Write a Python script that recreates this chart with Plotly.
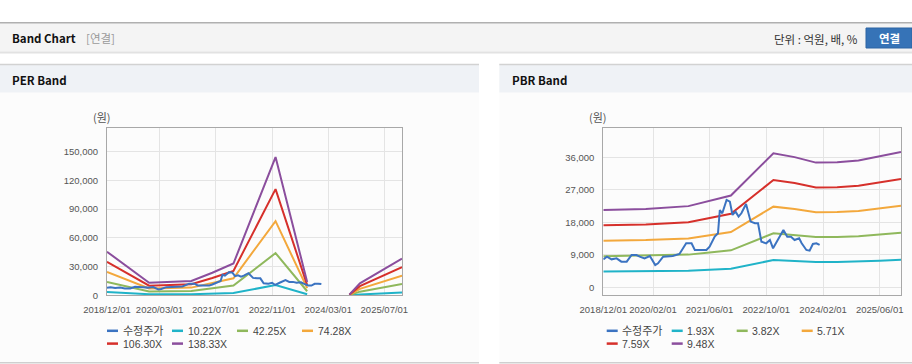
import plotly.graph_objects as go

W, H = 912, 364

# ---------------- data ----------------
per_dates = ["2018-12-01", "2019-12-01", "2020-12-01", "2021-06-01", "2021-12-01",
             "2022-12-01", "2023-09-01", "2024-03-01", "2024-09-01", "2024-12-01", "2025-12-01"]
per_band_names = ["10.22X", "42.25X", "74.28X", "106.30X", "138.33X"]
per_10_22 = [3362, 971, 1104, 1737, 2453, 10670, 1022, None, 51, 920, 2831]
per_42_25 = [13900, 4014, 4563, 7183, 10140, 44109, 4225, None, 211, 3803, 11703]
per_74_28 = [24438, 7057, 8022, 12628, 17827, 77548, 7428, None, 371, 6685, 20576]
per_106_30 = [34973, 10099, 11480, 18071, 25512, 110977, 10630, None, 532, 9567, 29445]
per_138_33 = [45511, 13141, 14940, 23516, 33199, 144417, 13833, None, 692, 12450, 38317]

pbr_dates = ["2018-12-01", "2019-12-01", "2020-12-01", "2021-06-01", "2021-12-01", "2022-12-01",
             "2023-06-01", "2023-12-01", "2024-06-01", "2024-12-01", "2025-06-01", "2025-12-01"]
pbr_band_names = ["1.93X", "3.82X", "5.71X", "7.59X", "9.48X"]
pbr_1_93 = [4362, 4420, 4574, 4883, 5172, 7546, 7334, 7025, 7045, 7141, 7392, 7624]
pbr_3_82 = [8633, 8748, 9053, 9665, 10238, 14936, 14516, 13905, 13943, 14134, 14631, 15089]
pbr_5_71 = [12905, 13076, 13533, 14446, 15303, 22326, 21698, 20784, 20842, 21127, 21869, 22555]
pbr_7_59 = [17153, 17381, 17988, 19203, 20341, 29677, 28842, 27628, 27704, 28083, 29070, 29981]
pbr_9_48 = [21425, 21709, 22468, 23984, 25406, 37067, 36024, 34507, 34602, 35076, 36308, 37446]

price_name = "수정주가"
price_dates = ["2018-12-01", "2019-01-01", "2019-02-10", "2019-03-25", "2019-05-05", "2019-06-20",
               "2019-08-01", "2019-09-12", "2019-10-10", "2019-11-20", "2020-01-05", "2020-02-20",
               "2020-03-15", "2020-04-28", "2020-07-20", "2020-09-15", "2020-11-12", "2020-12-28",
               "2021-01-25", "2021-05-05", "2021-06-01", "2021-07-15", "2021-08-12", "2021-08-28",
               "2021-09-18", "2021-10-25", "2021-11-22", "2021-12-15", "2022-01-10", "2022-02-05",
               "2022-03-01", "2022-04-10", "2022-05-20", "2022-06-25", "2022-07-22", "2022-08-20",
               "2022-09-30", "2022-11-01", "2022-11-28", "2023-01-05", "2023-02-25", "2023-03-30",
               "2023-05-01", "2023-06-01", "2023-07-10", "2023-08-01", "2023-09-10", "2023-10-08",
               "2023-11-05", "2023-12-05", "2024-01-02"]
price_vals = [7750, 8490, 7750, 8030, 7100, 7100,
              8950, 8950, 8490, 8030, 8680, 6180,
              6650, 8490, 8680, 9230, 12180, 12180,
              10330, 10330, 11260, 14030, 14950, 21400,
              20490, 24180, 23720, 20030, 20950, 19560,
              20490, 23070, 18180, 17720, 17720, 12640,
              12180, 13100, 10800, 13100, 15870, 14020,
              14020, 13100, 13570, 12180, 10340, 10150,
              12000, 12180, 11720]

per_ticks = ["2018-12-01", "2020-03-01", "2021-07-01", "2022-11-01", "2024-03-01", "2025-07-01"]
per_ticktext = ["2018/12/01", "2020/03/01", "2021/07/01", "2022/11/01", "2024/03/01", "2025/07/01"]
pbr_ticks = ["2018-12-01", "2020-02-01", "2021-06-01", "2022-10-01", "2024-02-01", "2025-06-01"]
pbr_ticktext = ["2018/12/01", "2020/02/01", "2021/06/01", "2022/10/01", "2024/02/01", "2025/06/01"]
per_yticks = [0, 30000, 60000, 90000, 120000, 150000]
pbr_yticks = [0, 9000, 18000, 27000, 36000]

colors = ["#3b73c1", "#20b3c8", "#8fb85c", "#f3a83c", "#d6302b", "#8b4e9d"]

# ---------------- helpers ----------------
def fx(px):
    return px / W

def fy(py):
    return 1 - py / H

fig = go.Figure()

per_series = [per_10_22, per_42_25, per_74_28, per_106_30, per_138_33]
pbr_series = [pbr_1_93, pbr_3_82, pbr_5_71, pbr_7_59, pbr_9_48]

for i, s in enumerate(per_series):
    fig.add_trace(go.Scatter(x=per_dates, y=s, mode="lines", name=per_band_names[i],
                             line=dict(color=colors[i + 1], width=2), connectgaps=False,
                             xaxis="x", yaxis="y", showlegend=False))
fig.add_trace(go.Scatter(x=price_dates, y=price_vals, mode="lines", name=price_name,
                         line=dict(color=colors[0], width=2), xaxis="x", yaxis="y", showlegend=False))

for i, s in enumerate(pbr_series):
    fig.add_trace(go.Scatter(x=pbr_dates, y=s, mode="lines", name=pbr_band_names[i],
                             line=dict(color=colors[i + 1], width=2),
                             xaxis="x2", yaxis="y2", showlegend=False))
fig.add_trace(go.Scatter(x=price_dates, y=price_vals, mode="lines", name=price_name,
                         line=dict(color=colors[0], width=2), xaxis="x2", yaxis="y2", showlegend=False))

tickfont = dict(family="Liberation Sans, Arial", size=9.5, color="#555555")
axis_common = dict(showline=True, linecolor="#a8a8a8", linewidth=1, mirror=True,
                   showgrid=True, gridcolor="#e4e4e4", gridwidth=1, zeroline=False,
                   ticks="", tickfont=tickfont, automargin=False)

fig.update_layout(
    width=W, height=H, margin=dict(l=0, r=0, t=0, b=0, pad=0, autoexpand=False),
    paper_bgcolor="white", plot_bgcolor="white",
    xaxis=dict(domain=[fx(107), fx(402)], type="date", range=["2018-12-01", "2025-12-01"],
               tickvals=per_ticks, ticktext=per_ticktext, anchor="y", ticklabelstandoff=5, **axis_common),
    yaxis=dict(domain=[fy(295.3), fy(128.3)], range=[0, 174500], tickvals=per_yticks,
               tickformat=",d", anchor="x", ticklabelstandoff=6, **axis_common),
    xaxis2=dict(domain=[fx(603.3), fx(901)], type="date", range=["2018-12-01", "2025-12-01"],
                tickvals=pbr_ticks, ticktext=pbr_ticktext, anchor="y2", ticklabelstandoff=5, **axis_common),
    yaxis2=dict(domain=[fy(295.3), fy(128.3)], range=[-2200, 44000], tickvals=pbr_yticks,
                tickformat=",d", anchor="x2", ticklabelstandoff=6, **axis_common),
)

shapes = []
# top header bar
shapes.append(dict(type="rect", xref="paper", yref="paper", x0=0, x1=1, y0=fy(51.5), y1=fy(22.5),
                   fillcolor="#f4f4f4", line=dict(width=0), layer="below"))
shapes.append(dict(type="line", xref="paper", yref="paper", x0=0, x1=1, y0=fy(22.8), y1=fy(22.8),
                   line=dict(color="#b0b0b0", width=1.5), layer="below"))
shapes.append(dict(type="rect", xref="paper", yref="paper", x0=0, x1=1, y0=fy(53.5), y1=fy(51.5),
                   fillcolor="#e2e2e2", line=dict(width=0), layer="below"))
# panels
for (a, b) in [(0, 479), (499.3, 912)]:
    shapes.append(dict(type="rect", xref="paper", yref="paper", x0=fx(a), x1=fx(b), y0=fy(362), y1=fy(92.5),
                       fillcolor="#fcfcfc", line=dict(width=0), layer="below"))
    shapes.append(dict(type="rect", xref="paper", yref="paper", x0=fx(a), x1=fx(b), y0=fy(92.5), y1=fy(64.5),
                       fillcolor="#eff2f6", line=dict(width=0), layer="below"))
    shapes.append(dict(type="line", xref="paper", yref="paper", x0=fx(a), x1=fx(b), y0=fy(64.5), y1=fy(64.5),
                       line=dict(color="#d2d2d2", width=1.5), layer="below"))
    shapes.append(dict(type="line", xref="paper", yref="paper", x0=fx(a), x1=fx(b), y0=fy(362.8), y1=fy(362.8),
                       line=dict(color="#cfcfcf", width=1.5), layer="below"))
# button
shapes.append(dict(type="rect", xref="paper", yref="paper", x0=fx(866), x1=fx(912), y0=fy(48), y1=fy(28),
                   fillcolor="#3673b7", line=dict(color="#2d64a3", width=1), layer="below"))

annotations = []
def txt(x, y, text, size=12, color="#111", bold=False, anchor="left", family="Noto Sans CJK KR"):
    t = f"<b>{text}</b>" if bold else text
    annotations.append(dict(xref="paper", yref="paper", x=fx(x), y=fy(y), text=t, showarrow=False,
                            xanchor=anchor, yanchor="middle",
                            font=dict(family=family, size=size, color=color)))

txt(10, 38, "Band Chart", 11.5, "#111", True)
txt(84, 38.5, "[연결]", 11.5, "#9a9a9a")
txt(860, 39, "단위 : 억원, 배, %", 11.5, "#333", anchor="right")
txt(889, 38, "연결", 11.5, "white", True, anchor="center")
txt(10, 79.5, "PER Band", 11.5, "#111", True)
txt(510, 79.5, "PBR Band", 11.5, "#111", True)
txt(102, 117, "(원)", 11, "#555", anchor="center")
txt(598, 117, "(원)", 11, "#555", anchor="center")

# legends
per_leg_names = [price_name] + per_band_names
pbr_leg_names = [price_name] + pbr_band_names
for base, names in [(107, per_leg_names), (606.7, pbr_leg_names)]:
    for i, nm in enumerate(names):
        row = i // 4
        col = i % 4
        x0 = base + col * 65
        y0 = 330.8 + row * 12.8
        shapes.append(dict(type="line", xref="paper", yref="paper", x0=fx(x0), x1=fx(x0 + 11),
                           y0=fy(y0), y1=fy(y0), line=dict(color=colors[i], width=2.5)))
        txt(x0 + 13.5, y0, nm, 11 if i == 0 else 10.5, "#444", anchor="left",
            family="Liberation Sans, Noto Sans CJK KR")

fig.update_layout(shapes=shapes, annotations=annotations)
fig.write_html("out.html", config={"displayModeBar": False},
               post_script="document.body.style.margin='0';document.body.style.overflow='hidden';")
